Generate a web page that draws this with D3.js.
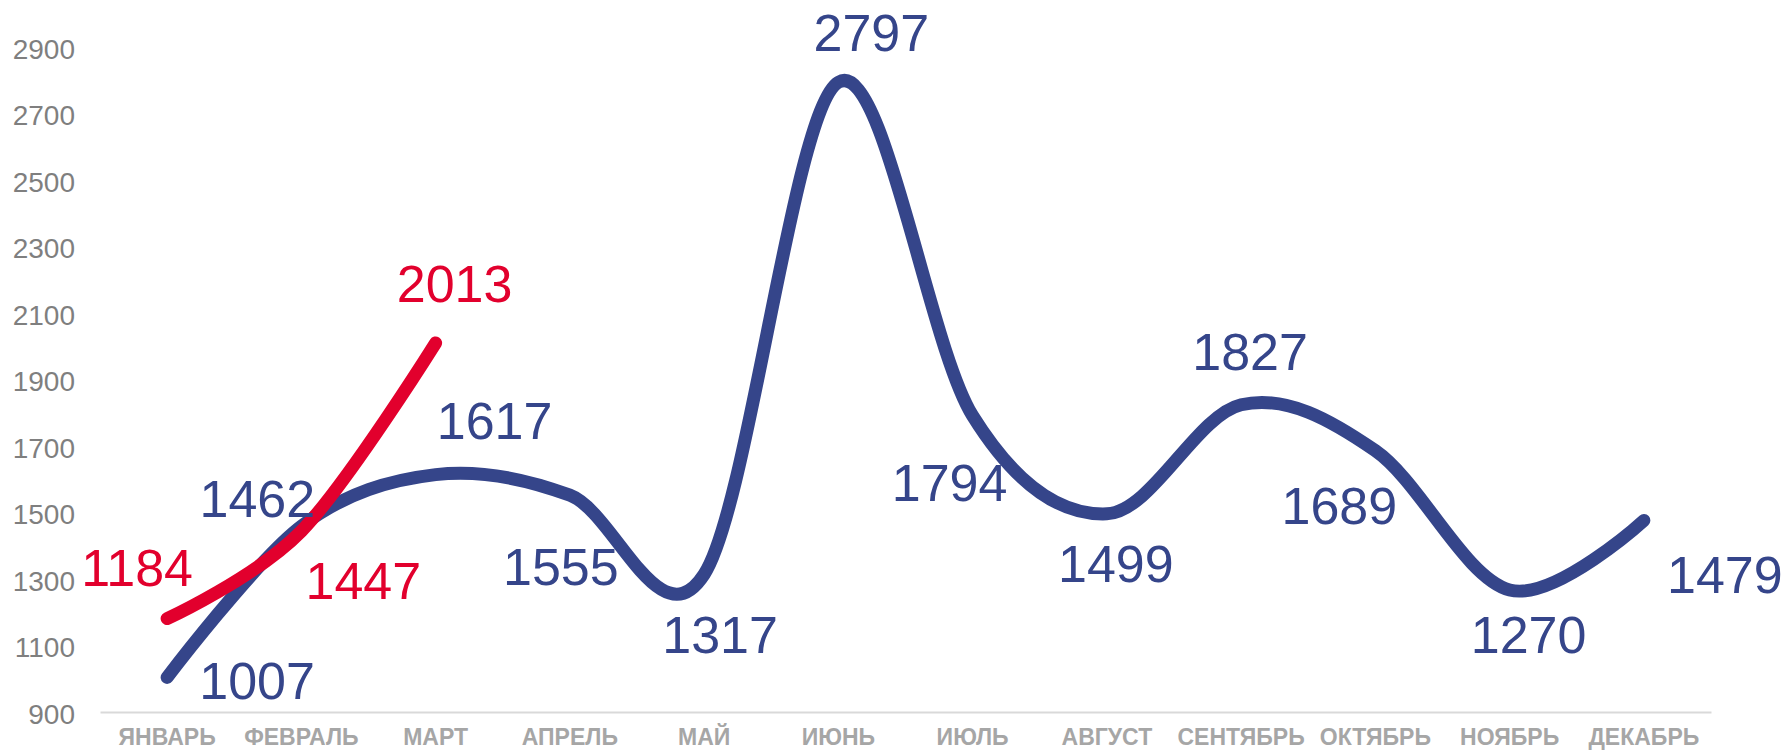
<!DOCTYPE html>
<html>
<head>
<meta charset="utf-8">
<script src="https://cdn.jsdelivr.net/npm/d3@7"></script>
<style>
  html, body { margin: 0; padding: 0; background: #ffffff; }
  svg { display: block; }
</style>
</head>
<body>
<svg id="chart" width="1788" height="751"></svg>
<script>
// ---- data ----
const months = ["ЯНВАРЬ", "ФЕВРАЛЬ", "МАРТ", "АПРЕЛЬ", "МАЙ", "ИЮНЬ", "ИЮЛЬ", "АВГУСТ", "СЕНТЯБРЬ", "ОКТЯБРЬ", "НОЯБРЬ", "ДЕКАБРЬ"];
const seriesPrev = [1007, 1462, 1617, 1555, 1317, 2797, 1794, 1499, 1827, 1689, 1270, 1479];
const seriesCurr = [1184, 1447, 2013];
const yTicks = [900, 1100, 1300, 1500, 1700, 1900, 2100, 2300, 2500, 2700, 2900];

// ---- label placement (pixel offsets from the point, label centre) ----
const prevLabelOffsets = [[90, 3], [-44, -28], [59, -54], [-9, 71], [16, 60], [33, -50],
                          [-23, 67], [9, 49], [9, -53], [-36, 55], [19, 44], [81, 54]];
const currLabelOffsets = [[-30, -51], [62, 49], [19, -60]];

const BLUE = "#35458a", RED = "#e2002d";
const svg = d3.select("#chart");

const x = d3.scaleBand().domain(months).range([100, 1711]);
const y = d3.scaleLinear().domain([900, 2900]).range([713, 48]);
const cx = m => x(m) + x.bandwidth() / 2;

// y axis labels
const yAxis = d3.axisLeft(y).tickValues(yTicks).tickFormat(d3.format("d")).tickSize(0).tickPadding(0);
const gy = svg.append("g").attr("transform", "translate(75,0)").call(yAxis);
gy.select(".domain").remove();
gy.selectAll("text")
  .attr("font-family", "'Liberation Sans', Arial, sans-serif")
  .attr("font-size", 28)
  .attr("fill", "#7f7f7f")
  .attr("dy", "0.36em");

// x axis
const xAxis = d3.axisBottom(x).tickSize(0).tickPadding(0);
const gx = svg.append("g").attr("transform", "translate(0,712)").call(xAxis);
gx.select(".domain").attr("stroke", "#d9d9d9").attr("stroke-width", 2);
gx.selectAll("text")
  .attr("font-family", "'Liberation Sans Narrow', 'Arial Narrow', 'Liberation Sans', sans-serif")
  .attr("font-weight", "bold")
  .attr("font-size", 23)
  .attr("fill", "#a6a6a6")
  .attr("dy", null)
  .attr("y", 33);

const line = d3.line()
  .x((d, i) => cx(months[i]))
  .y(d => y(d))
  .curve(d3.curveCardinal.tension(0));

svg.append("path").datum(seriesPrev)
  .attr("d", line).attr("fill", "none")
  .attr("stroke", BLUE).attr("stroke-width", 13)
  .attr("stroke-linecap", "round").attr("stroke-linejoin", "round");

svg.append("path").datum(seriesCurr)
  .attr("d", line).attr("fill", "none")
  .attr("stroke", RED).attr("stroke-width", 13)
  .attr("stroke-linecap", "round").attr("stroke-linejoin", "round");

function labels(data, offs, color) {
  svg.append("g").selectAll("text").data(data).join("text")
    .attr("x", (d, i) => cx(months[i]) + offs[i][0])
    .attr("y", (d, i) => y(d) + offs[i][1])
    .attr("dy", "0.36em")
    .attr("text-anchor", "middle")
    .attr("font-family", "'Liberation Sans', Arial, sans-serif")
    .attr("font-size", 52)
    .attr("fill", color)
    .text(d => d);
}
labels(seriesPrev, prevLabelOffsets, BLUE);
labels(seriesCurr, currLabelOffsets, RED);
</script>
</body>
</html>
